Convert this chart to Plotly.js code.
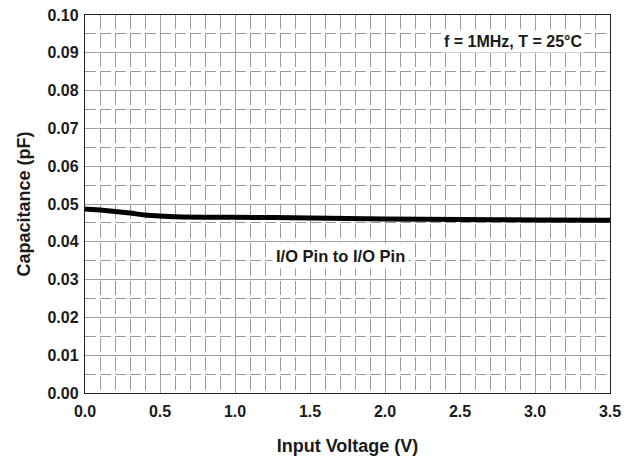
<!DOCTYPE html>
<html>
<head>
<meta charset="utf-8">
<script src="https://cdn.plot.ly/plotly-3.0.1.min.js"></script>
<style>html,body{margin:0;padding:0;background:#fff;}#chart{width:633px;height:459px;}</style>
</head>
<body>
<div id="chart"></div>
<script>
const voltage = [0.0, 0.1, 0.2, 0.3, 0.4, 0.5, 0.6, 0.8, 1.0, 1.5, 2.0, 2.5, 3.0, 3.5];
const capacitance = [0.0487, 0.0484, 0.0480, 0.0476, 0.0471, 0.0468, 0.0466, 0.0465, 0.0465, 0.0463, 0.0460, 0.0459, 0.0458, 0.0457];
const xTickVals = [0, 0.5, 1, 1.5, 2, 2.5, 3, 3.5];
const xTickText = ["0.0", "0.5", "1.0", "1.5", "2.0", "2.5", "3.0", "3.5"];
const yTickVals = [0, 0.01, 0.02, 0.03, 0.04, 0.05, 0.06, 0.07, 0.08, 0.09, 0.10];
const yTickText = ["0.00", "0.01", "0.02", "0.03", "0.04", "0.05", "0.06", "0.07", "0.08", "0.09", "0.10"];
const curveLabel = "I/O Pin to I/O Pin";
const conditionLabel = "f = 1MHz, T = 25°C";

const font = "Liberation Sans, Arial, sans-serif";
const trace = {
  x: voltage, y: capacitance, type: 'scatter', mode: 'lines',
  line: {color: '#000', width: 5, shape: 'spline', smoothing: 0.6},
  hoverinfo: 'skip', showlegend: false
};
const layout = {
  width: 633, height: 459,
  margin: {l: 85, r: 23, t: 15, b: 66},
  paper_bgcolor: '#fff', plot_bgcolor: '#fff',
  showlegend: false,
  xaxis: {
    range: [0, 3.5], tickvals: xTickVals, ticktext: xTickText,
    showgrid: true, gridcolor: '#a0a0a0', gridwidth: 1,
    minor: {dtick: 0.1, showgrid: true, gridcolor: '#9a9a9a', gridwidth: 1, griddash: '14px,5px', ticks: ''},
    showline: true, linecolor: '#222', linewidth: 1.2, mirror: true,
    ticks: '', zeroline: false, ticklabelstandoff: 4,
    tickfont: {family: font, size: 16, color: '#1a1a1a', weight: 'bold'},
    title: {text: '<b>Input Voltage (V)</b>', font: {family: font, size: 18, color: '#1a1a1a'}, standoff: 20}
  },
  yaxis: {
    range: [0, 0.1], tickvals: yTickVals, ticktext: yTickText,
    showgrid: true, gridcolor: '#a0a0a0', gridwidth: 1,
    minor: {dtick: 0.005, showgrid: true, gridcolor: '#9a9a9a', gridwidth: 1, griddash: '11px,4px', ticks: ''},
    showline: true, linecolor: '#222', linewidth: 1.2, mirror: true,
    ticks: '', zeroline: false, ticklabelstandoff: 2,
    tickfont: {family: font, size: 16, color: '#1a1a1a', weight: 'bold'},
    title: {text: '<b>Capacitance (pF)</b>', font: {family: font, size: 18, color: '#1a1a1a'}, standoff: 12}
  },
  annotations: [
    {x: 2.853, y: 0.0929, xref: 'x', yref: 'y', text: '<b>' + conditionLabel + '</b>', showarrow: false,
     font: {family: font, size: 16, color: '#1a1a1a'}, bgcolor: '#fff', borderpad: 2},
    {x: 1.70, y: 0.0362, xref: 'x', yref: 'y', text: '<b>' + curveLabel + '</b>', showarrow: false,
     font: {family: font, size: 16.5, color: '#1a1a1a'}, bgcolor: '#fff', borderpad: 3}
  ]
};
Plotly.newPlot('chart', [trace], layout, {staticPlot: true, displayModeBar: false});
</script>
</body>
</html>
